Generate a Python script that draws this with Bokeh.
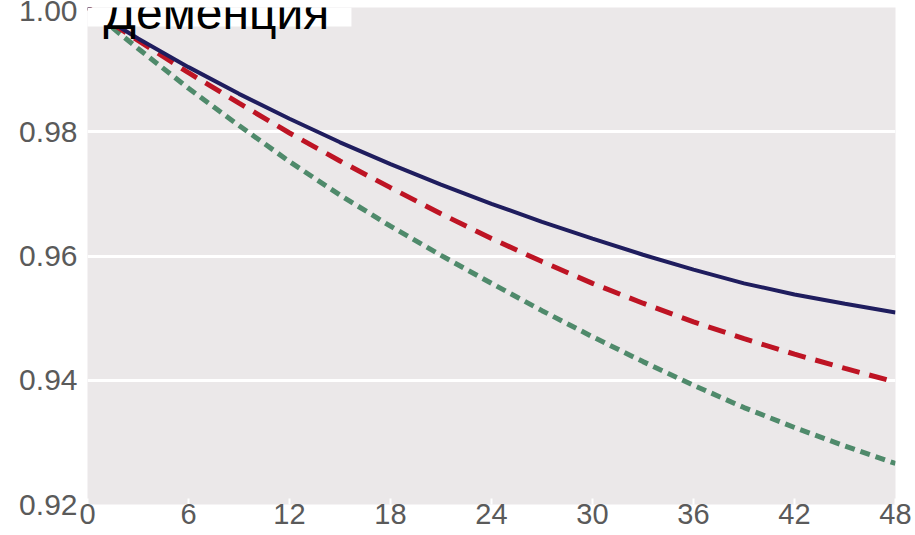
from bokeh.plotting import figure
from bokeh.models import Range1d, FixedTicker, BoxAnnotation, Label
from bokeh.embed import file_html
from bokeh.resources import INLINE

# Months of follow-up
months = [0, 3, 6, 9, 12, 15, 18, 21, 24, 27, 30, 33, 36, 39, 42, 45, 48]

# Proportion still free of dementia, three groups
group_solid = [1.000, 0.9950, 0.9904, 0.9861, 0.9821, 0.9783, 0.9748, 0.9715,
               0.9684, 0.9655, 0.9628, 0.9602, 0.9578, 0.9556, 0.9538, 0.9523, 0.9509]
group_red = [1.000, 0.9947, 0.9895, 0.9846, 0.9798, 0.9753, 0.9710, 0.9668,
             0.9628, 0.9591, 0.9556, 0.9524, 0.9494, 0.9467, 0.9442, 0.9419, 0.9397]
group_green = [1.000, 0.9934, 0.9870, 0.9810, 0.9752, 0.9698, 0.9648, 0.9601,
               0.9556, 0.9512, 0.9470, 0.9430, 0.9392, 0.9356, 0.9324, 0.9294, 0.9266]

x_ticks = [0, 6, 12, 18, 24, 30, 36, 42, 48]
x_tick_labels = ["0", "6", "12", "18", "24", "30", "36", "42", "48"]
y_ticks = [0.92, 0.94, 0.96, 0.98, 1.00]
y_tick_labels = ["0.92", "0.94", "0.96", "0.98", "1.00"]

title_text = "Деменция"

p = figure(
    width=915, height=535,
    x_range=Range1d(0, 48), y_range=Range1d(0.92, 1.0),
    output_backend="svg", toolbar_location=None,
    min_border_left=87, min_border_right=20,
    min_border_top=7, min_border_bottom=31,
    background_fill_color="#ebe8e9", border_fill_color="white",
    outline_line_color=None,
)

label_font = "Liberation Sans"
label_color = "#5a5a5a"

# x axis
p.xaxis.ticker = FixedTicker(ticks=x_ticks)
p.xaxis.major_label_overrides = dict(zip(x_ticks, x_tick_labels))
p.xaxis.axis_line_color = None
p.xaxis.major_tick_in = 6
p.xaxis.major_tick_out = 0
p.xaxis.major_tick_line_color = "white"
p.xaxis.major_tick_line_width = 2
p.xaxis.minor_tick_line_color = None
p.xaxis.major_label_standoff = -1
p.xaxis.major_label_text_font = label_font
p.xaxis.major_label_text_font_size = "29px"
p.xaxis.major_label_text_color = label_color

# y axis
p.yaxis.ticker = FixedTicker(ticks=y_ticks)
p.yaxis.major_label_overrides = dict(zip(y_ticks, y_tick_labels))
p.yaxis.axis_line_color = None
p.yaxis.major_tick_in = 0
p.yaxis.major_tick_out = 0
p.yaxis.major_tick_line_color = None
p.yaxis.minor_tick_line_color = None
p.yaxis.major_label_standoff = 10
p.yaxis.major_label_text_font = label_font
p.yaxis.major_label_text_font_size = "30px"
p.yaxis.major_label_text_color = label_color

p.xgrid.visible = False
p.ygrid.grid_line_color = "white"
p.ygrid.grid_line_width = 3

# curves
p.line(months, group_green, line_color="#4f8a6b", line_width=5, line_dash="10 6")
p.line(months, group_red, line_color="#be1424", line_width=5, line_dash="18 10")
p.line(months, group_solid, line_color="#1f1d5e", line_width=4)

# title panel
p.add_layout(BoxAnnotation(left=-2, right=15.68, bottom=0.99694,
                           fill_color="white", fill_alpha=1.0, line_color=None))
p.add_layout(Label(x=0.95, y=0.9992, text=title_text, text_font=label_font,
                   text_font_size="48px", text_color="black",
                   text_baseline="alphabetic"))

open("out.html", "w").write(file_html(p, INLINE))
